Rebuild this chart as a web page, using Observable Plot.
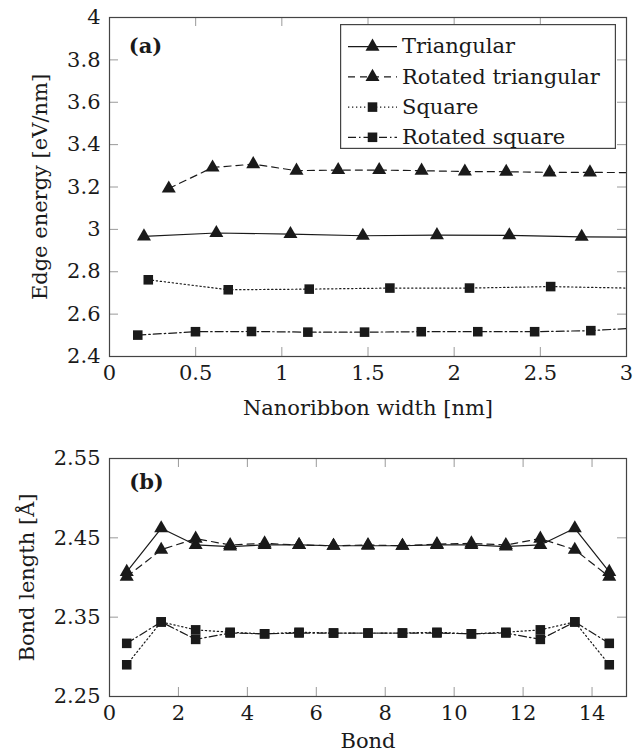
<!DOCTYPE html>
<html>
<head>
<meta charset="utf-8">
<script src="https://cdn.jsdelivr.net/npm/d3@7"></script>
<script src="https://cdn.jsdelivr.net/npm/@observablehq/plot@0.6"></script>
<style>
html, body { margin: 0; padding: 0; background: #fff; }
#fig { position: relative; width: 644px; height: 756px; font-family: "DejaVu Serif", serif; }
#fig svg { display: block; }
#fig svg text { font-family: "DejaVu Serif", serif; }
</style>
</head>
<body>
<div id="fig"></div>
<script>
// ---------------- DATA ----------------
const seriesNames = ["Triangular", "Rotated triangular", "Square", "Rotated square"];

// Panel (a): edge energy vs nanoribbon width
const widthTri     = [0.20, 0.62, 1.05, 1.47, 1.90, 2.32, 2.74];
const energyTri    = [2.967, 2.983, 2.978, 2.970, 2.973, 2.972, 2.965];
const widthRotTri  = [0.344, 0.598, 0.834, 1.085, 1.327, 1.565, 1.811, 2.062, 2.302, 2.554, 2.788];
const energyRotTri = [3.193, 3.292, 3.308, 3.277, 3.280, 3.280, 3.277, 3.273, 3.272, 3.269, 3.269];
const widthSq      = [0.225, 0.689, 1.159, 1.627, 2.089, 2.560];
const energySq     = [2.762, 2.715, 2.718, 2.723, 2.723, 2.730];
const widthRotSq   = [0.164, 0.499, 0.824, 1.151, 1.480, 1.809, 2.137, 2.467, 2.793];
const energyRotSq  = [2.501, 2.517, 2.518, 2.515, 2.515, 2.517, 2.517, 2.517, 2.522];
// value of each curve where it leaves the plot at the right edge (width = 3 nm)
const energyAtEdge = [2.963, 3.268, 2.723, 2.532];

// Panel (b): bond length vs bond index
const bond      = [0.5, 1.5, 2.5, 3.5, 4.5, 5.5, 6.5, 7.5, 8.5, 9.5, 10.5, 11.5, 12.5, 13.5, 14.5];
const lenTri    = [2.407, 2.462, 2.441, 2.439, 2.441, 2.441, 2.440, 2.440, 2.440, 2.441, 2.441, 2.439, 2.441, 2.462, 2.407];
const lenRotTri = [2.401, 2.435, 2.449, 2.441, 2.443, 2.441, 2.440, 2.441, 2.440, 2.442, 2.443, 2.441, 2.449, 2.435, 2.401];
const lenSq     = [2.290, 2.344, 2.334, 2.331, 2.329, 2.331, 2.330, 2.330, 2.330, 2.331, 2.329, 2.331, 2.334, 2.344, 2.290];
const lenRotSq  = [2.317, 2.344, 2.322, 2.330, 2.329, 2.330, 2.330, 2.330, 2.330, 2.330, 2.329, 2.330, 2.322, 2.344, 2.317];

// Axis ticks and labels
const xTicksA = [0, 0.5, 1, 1.5, 2, 2.5, 3];
const yTicksA = [2.4, 2.6, 2.8, 3, 3.2, 3.4, 3.6, 3.8, 4];
const xTicksB = [0, 2, 4, 6, 8, 10, 12, 14];
const yTicksB = [2.25, 2.35, 2.45, 2.55];
const xDomainA = [0, 3], yDomainA = [2.4, 4];
const xDomainB = [0, 15], yDomainB = [2.25, 2.55];
const labelsA = {x: "Nanoribbon width [nm]", y: "Edge energy [eV/nm]", tag: "(a)"};
const labelsB = {x: "Bond", y: "Bond length [Å]", tag: "(b)"};

// ---------------- STYLE ----------------
const FONT = '"DejaVu Serif", serif';
const FS = 21;
const INK = "#1a1a1a";
const STYLE = {
  "Triangular":         {dash: null,        symbol: "triangle", r: 5.2},
  "Rotated triangular": {dash: "7,5",       symbol: "triangle", r: 5.2},
  "Square":             {dash: "1.3,2.7",   symbol: "square",   r: 5.4},
  "Rotated square":     {dash: "8,3,1.5,3", symbol: "square",   r: 5.4}
};
const W = 644, ML = 109, MR = 18;
const FW = W - ML - MR;
const TICK = 9;

function rows(xs, ys) { return xs.map((v, i) => ({x: v, y: ys[i]})); }

function panel(cfg) {
  const FH = cfg.height - cfg.mt - cfg.mb;
  const marks = [];
  // inner ticks on all four sides
  const xin = cfg.xTicks.filter(t => t > cfg.xDomain[0] && t < cfg.xDomain[1]);
  const yin = cfg.yTicks.filter(t => t > cfg.yDomain[0] && t < cfg.yDomain[1]);
  const tk = {stroke: "#9a9a9a", strokeWidth: 1};
  marks.push(Plot.tickX(xin, {x: d => d, insetTop: FH - TICK, ...tk}));
  marks.push(Plot.tickX(xin, {x: d => d, insetBottom: FH - TICK, ...tk}));
  marks.push(Plot.tickY(yin, {y: d => d, insetRight: FW - TICK, ...tk}));
  marks.push(Plot.tickY(yin, {y: d => d, insetLeft: FW - TICK, ...tk}));
  // curves
  cfg.curves.forEach(c => {
    const s = STYLE[c.name];
    const o = {x: "x", y: "y", stroke: INK, strokeWidth: 1.2};
    if (s.dash) o.strokeDasharray = s.dash;
    marks.push(Plot.line(c.line, o));
  });
  cfg.curves.forEach(c => {
    const s = STYLE[c.name];
    marks.push(Plot.dot(c.pts, {x: "x", y: "y", symbol: s.symbol, r: s.r, fill: INK, stroke: "none"}));
  });
  marks.push(Plot.frame({stroke: "#444", strokeWidth: 1.2}));
  // axes (labels only)
  marks.push(Plot.axisX({ticks: cfg.xTicks, tickSize: 0, tickPadding: cfg.xPad, tickFormat: cfg.xFmt, label: null, fontSize: FS, fill: INK}));
  marks.push(Plot.axisY({ticks: cfg.yTicks, tickSize: 0, tickPadding: 9, tickFormat: cfg.yFmt, label: null, fontSize: FS, fill: INK}));
  // axis titles
  marks.push(Plot.text([cfg.labels.x], {text: d => d, frameAnchor: "bottom", dy: cfg.xLabelDy, textAnchor: "middle", lineAnchor: "middle", fontSize: FS, fill: INK}));
  marks.push(Plot.text([cfg.labels.y], {text: d => d, frameAnchor: "left", dx: cfg.yLabelDx, rotate: -90, textAnchor: "middle", lineAnchor: "middle", fontSize: FS, fill: INK}));
  marks.push(Plot.text([cfg.labels.tag], {text: d => d, frameAnchor: "top-left", dx: cfg.tagDx, dy: cfg.tagDy, textAnchor: "middle", lineAnchor: "middle", fontSize: FS, fontWeight: "bold", fill: INK}));
  const svg = Plot.plot({
    width: W, height: cfg.height,
    marginLeft: ML, marginRight: MR, marginTop: cfg.mt, marginBottom: cfg.mb,
    x: {domain: cfg.xDomain},
    y: {domain: cfg.yDomain},
    style: {fontFamily: FONT, fontSize: FS + "px", background: "#fff", color: INK, overflow: "visible"},
    marks
  });
  return svg;
}

const fig = document.getElementById("fig");

// Panel (a)
const aX = [widthTri, widthRotTri, widthSq, widthRotSq];
const aY = [energyTri, energyRotTri, energySq, energyRotSq];
const curvesA = seriesNames.map((name, k) => {
  const pts = rows(aX[k], aY[k]);
  return {name, pts, line: pts.concat([{x: xDomainA[1], y: energyAtEdge[k]}])};
});
fig.appendChild(panel({
  height: 440, mt: 17, mb: 84,
  xDomain: xDomainA, yDomain: yDomainA, xTicks: xTicksA, yTicks: yTicksA,
  xFmt: d3.format("~g"), yFmt: d3.format("~g"), xPad: 9,
  labels: labelsA, xLabelDy: 52, yLabelDx: -69, tagDx: 36, tagDy: 29,
  curves: curvesA
}));

// Panel (b)
const bY = [lenTri, lenRotTri, lenSq, lenRotSq];
const curvesB = seriesNames.map((name, k) => {
  const pts = rows(bond, bY[k]);
  return {name, pts, line: pts};
});
fig.appendChild(panel({
  height: 316, mt: 18, mb: 60,
  xDomain: xDomainB, yDomain: yDomainB, xTicks: xTicksB, yTicks: yTicksB,
  xFmt: d3.format("~g"), yFmt: d3.format(".2f"), xPad: 9,
  labels: labelsB, xLabelDy: 45, yLabelDx: -82, tagDx: 37, tagDy: 24,
  curves: curvesB
}));

// Legend (inside panel a, upper right)
const LW = 276, LH = 125;
const lg = d3.create("svg")
  .attr("width", LW).attr("height", LH)
  .style("position", "absolute").style("left", "340px").style("top", "24px")
  .style("font-family", FONT).style("font-size", FS + "px");
lg.append("rect").attr("x", 0.6).attr("y", 0.6).attr("width", LW - 1.2).attr("height", LH - 1.2)
  .attr("fill", "#fff").attr("stroke", "#444").attr("stroke-width", 1.2);
seriesNames.forEach((name, i) => {
  const s = STYLE[name];
  const cy = 22.7 + i * 30.2;
  const g = lg.append("g");
  g.append("line").attr("x1", 8).attr("x2", 57).attr("y1", cy).attr("y2", cy)
    .attr("stroke", INK).attr("stroke-width", 1.2)
    .attr("stroke-dasharray", s.dash);
  g.append("path")
    .attr("transform", `translate(32.5,${cy})`)
    .attr("d", d3.symbol().type(s.symbol === "triangle" ? d3.symbolTriangle : d3.symbolSquare).size(Math.PI * s.r * s.r)())
    .attr("fill", INK);
  g.append("text").attr("x", 62).attr("y", cy).attr("dy", "0.32em")
    .attr("fill", INK).text(name);
});
fig.appendChild(lg.node());
</script>
</body>
</html>
